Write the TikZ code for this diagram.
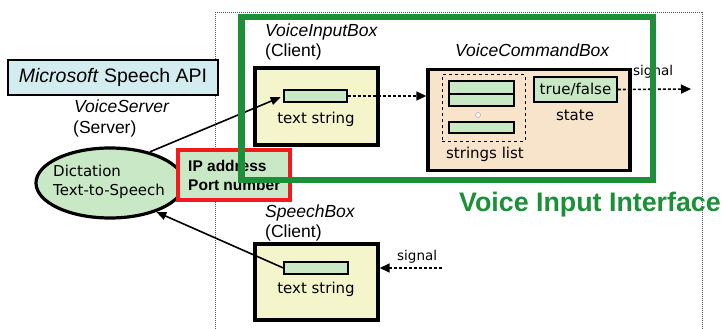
\documentclass[tikz,border=0pt]{standalone}
\usepackage{fontspec}
\setmainfont{Liberation Sans}
\newfontfamily\gothic{DejaVu Sans}
\usetikzlibrary{arrows.meta,shapes.geometric}

\definecolor{apiblue}{HTML}{D3ECF0}
\definecolor{srvgreen}{HTML}{C9E8C5}
\definecolor{boxyellow}{HTML}{F4F5CA}
\definecolor{cmdpeach}{HTML}{F8E3CB}
\definecolor{vigreen}{HTML}{1B9038}
\definecolor{ipred}{HTML}{F21A1A}

\begin{document}
\begin{tikzpicture}[x=1pt,y=-1pt,
    lbl/.style={inner sep=0,anchor=base west,font=\fontsize{17.5}{20}\selectfont},
    gtxt/.style={inner sep=0,anchor=base,font=\gothic\fontsize{15}{17}\selectfont},
    clientbox/.style={draw,line width=3.4pt,fill=boxyellow,minimum width=123pt,minimum height=76pt,inner sep=0},
    strrect/.style={draw,line width=1.2pt,fill=srvgreen,inner sep=0},
    darrow/.style={dash pattern=on 3pt off 2pt,line width=1.6pt,-{Triangle[length=10pt,width=9pt]}},
    sarrow/.style={line width=1.6pt,-{Triangle[length=10pt,width=8pt]}}]

  \useasboundingbox (0,0) rectangle (723,329);

  % outer frame
  \draw[gray!70!black,densely dotted,line width=1pt] (215,329) -- (215,13) -- (702,13) -- (702,329);

  % speech api and server
  \node[draw,line width=1.4pt,fill=apiblue,minimum width=210pt,minimum height=35pt,inner sep=0,
    font=\fontsize{19.5}{22}\selectfont] (api) at (113,77.5) {\textit{Microsoft} Speech API};
  \node[lbl] (srvname) at (74,112) {\textit{VoiceServer}};
  \node[lbl] (srvrole) at (73,133) {(Server)};
  \node[ellipse,draw,line width=3.2pt,fill=srvgreen,minimum width=148pt,minimum height=70pt] (srv) at (110,183) {};
  \node[gtxt,anchor=base west] (dict) at (53,176) {Dictation};
  \node[gtxt,anchor=base west] (tts) at (53,195) {Text-to-Speech};

  % voice input box
  \node[lbl] (vibname) at (265,37) {\textit{VoiceInputBox}};
  \node[lbl] (vibrole) at (265,57) {(Client)};
  \node[clientbox,minimum height=77pt] (vib) at (316.5,106.5) {};
  \node[strrect,minimum width=63pt,minimum height=12pt] (vibstr) at (315.5,96) {};
  \node[gtxt] (vibtxt) at (316,123) {text string};

  % speech box
  \node[lbl] (sbname) at (265,217) {\textit{SpeechBox}};
  \node[lbl] (sbrole) at (265,237) {(Client)};
  \node[clientbox] (sb) at (316.5,282) {};
  \node[strrect,minimum width=64pt,minimum height=12pt] (sbstr) at (316,268) {};
  \node[gtxt] (sbtxt) at (316,293) {text string};

  % voice command box
  \node[lbl] (vcbname) at (455,57) {\textit{VoiceCommandBox}};
  \node[draw,line width=3.4pt,fill=cmdpeach,minimum width=202pt,minimum height=101pt,inner sep=0] (vcb) at (529,120) {};
  \node[draw,dashed,line width=1pt,minimum width=83pt,minimum height=66pt,inner sep=0] (slist) at (483.5,108) {};
  \foreach \n/\y/\h in {1/87.5/13,2/100/12,3/127.5/11} {
    \node[strrect,line width=1.6pt,minimum width=65pt,minimum height=\h pt] (str\n) at (481.5,\y) {};
  }
  \node[circle,draw=gray!60,fill=white,line width=0.6pt,minimum size=5pt,inner sep=0] (dot) at (478,115) {};
  \node[gtxt] (sltxt) at (485,158) {strings list};
  \node[strrect,line width=1.6pt,minimum width=83pt,minimum height=25pt,gtxt,anchor=center] (tf) at (575.5,89.5) {true/false};
  \node[gtxt] (state) at (575,121) {state};

  % connectors
  \path (691,89) coordinate (sigout);
  \path (442,268) coordinate (sigin);
  \draw[sarrow,shorten >=3pt] (srv.38) -- (vibstr.west);
  \draw[sarrow] (sbstr.west) -- (srv.-32);
  \draw[darrow] (vibstr.east) -- (vcb.west |- vibstr.east);
  \draw[darrow] (tf.east) -- (sigout);
  \draw[darrow] (sigin) -- (sb.east |- sigin);
  \node[gtxt,anchor=base west,font=\gothic\fontsize{13.5}{15}\selectfont] (sigouttxt) at (633,75) {signal};
  \node[gtxt,anchor=base west,font=\gothic\fontsize{13.5}{15}\selectfont] (sigintxt) at (397,260) {signal};

  % ip address
  \node[draw=ipred,line width=4pt,fill=srvgreen,minimum width=112pt,minimum height=50pt,inner sep=0] (ip) at (234,175) {};
  \node[inner sep=0,anchor=base west,font=\bfseries\fontsize{15.5}{18}\selectfont] (iptxt) at (188,171) {IP address};
  \node[inner sep=0,anchor=base west,font=\bfseries\fontsize{15.5}{18}\selectfont] (porttxt) at (188,190) {Port number};

  % voice input interface
  \node[draw=vigreen,line width=6.5pt,minimum width=411.5pt,minimum height=163pt,inner sep=0] (vif) at (447.25,98.5) {};
  \node[inner sep=0,anchor=base west,text=vigreen,font=\bfseries\fontsize{26.8}{30}\selectfont] (viftxt) at (459,211) {Voice Input Interface};

\end{tikzpicture}
\end{document}
